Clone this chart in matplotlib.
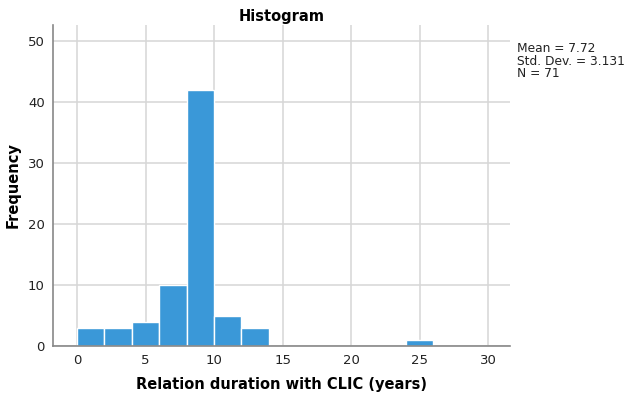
import numpy as np
import matplotlib
matplotlib.use("Agg")
import matplotlib.pyplot as plt

# 2-year bins from 0 to 30, counts
bin_edges = np.arange(0, 32, 2)
counts = [3, 3, 4, 10, 42, 5, 3, 0, 0, 0, 0, 0, 1, 0, 0]
stats_text = "Mean = 7.72\nStd. Dev. = 3.131\nN = 71"

plt.rcParams["font.family"] = ["DejaVu Sans"]

fig = plt.figure(figsize=(6.29, 3.96), dpi=100)
ax = fig.add_axes([0.0843, 0.126, 0.7267, 0.811])

centers = bin_edges[:-1] + 1
ax.hist(centers, bins=bin_edges, weights=counts, color="#3a98d8",
        edgecolor="white", linewidth=1.0, zorder=3)

ax.set_xlim(-1.75, 31.6)
ax.set_ylim(0, 52.6)
ax.set_xticks([0, 5, 10, 15, 20, 25, 30])
ax.set_yticks([0, 10, 20, 30, 40, 50])
ax.grid(True, color="#d6d6d6", linewidth=1.1, zorder=0)
ax.tick_params(length=0, labelsize=9.5, colors="#222222", pad=6)
for s in ["top", "right"]:
    ax.spines[s].set_visible(False)
for s in ["left", "bottom"]:
    ax.spines[s].set_color("#888888")
    ax.spines[s].set_linewidth(1.2)
    ax.spines[s].set_zorder(4)

ax.set_title("Histogram", fontsize=10.5, fontweight="bold", pad=3)
ax.set_xlabel("Relation duration with CLIC (years)", fontsize=10.5,
              fontweight="bold", labelpad=7)
ax.set_ylabel("Frequency", fontsize=10.5, fontweight="bold", labelpad=5)

fig.text(0.822, 0.893, stats_text, fontsize=8.8, va="top", ha="left",
         linespacing=0.95, color="#222222")

fig.savefig("out.png", dpi=100)
